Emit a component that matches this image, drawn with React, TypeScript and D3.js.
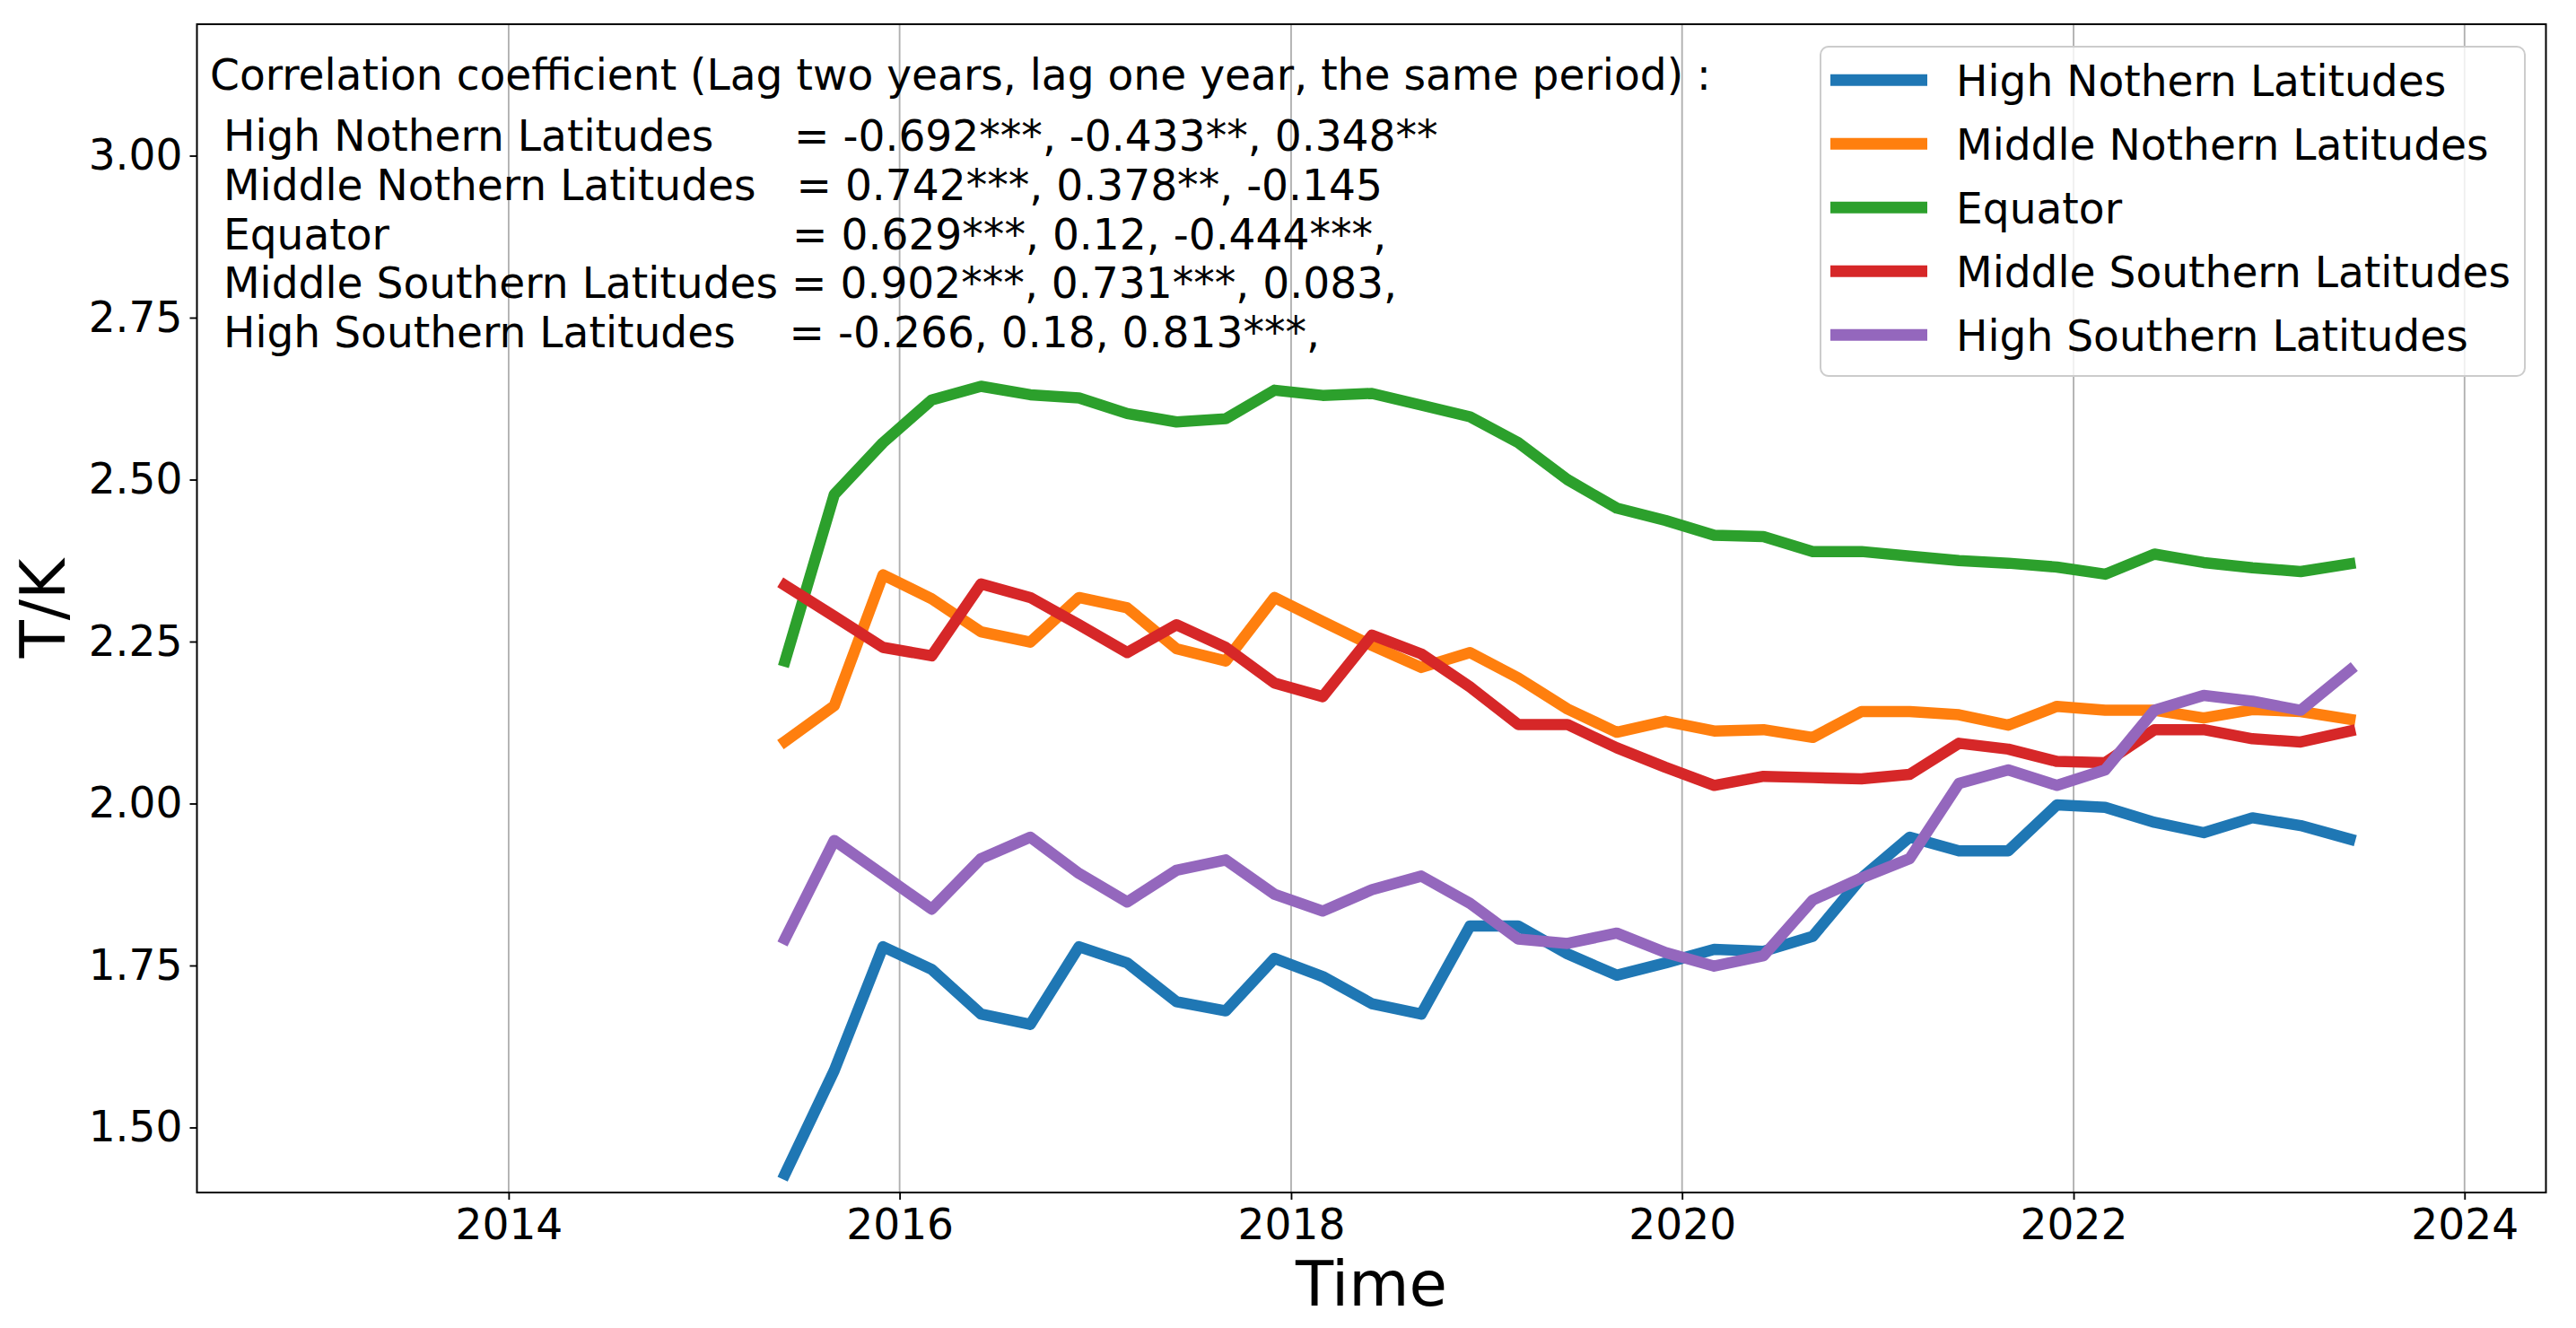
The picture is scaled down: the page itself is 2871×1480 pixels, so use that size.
import * as d3 from 'd3'
import { useEffect, useRef } from 'react'

const W = 2871
const H = 1480

const seriesNames = [
  'High Nothern Latitudes',
  'Middle Nothern Latitudes',
  'Equator',
  'Middle Southern Latitudes',
  'High Southern Latitudes',
]
const colors = ['#1f77b4', '#ff7f0e', '#2ca02c', '#d62728', '#9467bd']

// quarterly values, Jun 2015 .. Jun 2023
const highNorth = [1.428, 1.588, 1.779, 1.744, 1.675, 1.659, 1.779, 1.754, 1.694, 1.680, 1.761, 1.733, 1.691, 1.675, 1.811, 1.811, 1.768, 1.735, 1.754, 1.775, 1.772, 1.795, 1.885, 1.948, 1.927, 1.927, 1.998, 1.994, 1.971, 1.955, 1.978, 1.966, 1.945]
const midNorth = [2.096, 2.151, 2.353, 2.316, 2.265, 2.249, 2.318, 2.302, 2.239, 2.220, 2.318, 2.281, 2.244, 2.210, 2.233, 2.194, 2.146, 2.110, 2.127, 2.112, 2.114, 2.102, 2.142, 2.142, 2.137, 2.121, 2.150, 2.144, 2.144, 2.132, 2.145, 2.142, 2.130]
const equator = [2.220, 2.477, 2.557, 2.623, 2.644, 2.631, 2.626, 2.602, 2.589, 2.594, 2.638, 2.630, 2.633, 2.615, 2.597, 2.557, 2.500, 2.456, 2.437, 2.414, 2.412, 2.389, 2.389, 2.382, 2.375, 2.371, 2.365, 2.354, 2.385, 2.372, 2.364, 2.358, 2.370]
const midSouth = [2.337, 2.289, 2.241, 2.228, 2.339, 2.318, 2.276, 2.233, 2.276, 2.241, 2.186, 2.165, 2.260, 2.231, 2.180, 2.122, 2.122, 2.086, 2.056, 2.028, 2.042, 2.040, 2.038, 2.045, 2.093, 2.084, 2.065, 2.063, 2.114, 2.114, 2.100, 2.095, 2.112]
const highSouth = [1.791, 1.943, 1.890, 1.837, 1.915, 1.948, 1.892, 1.848, 1.897, 1.913, 1.860, 1.834, 1.867, 1.888, 1.846, 1.791, 1.784, 1.800, 1.770, 1.749, 1.765, 1.851, 1.885, 1.915, 2.031, 2.052, 2.028, 2.052, 2.144, 2.167, 2.158, 2.144, 2.206]

const yTicks = [1.5, 1.75, 2.0, 2.25, 2.5, 2.75, 3.0]

const corrTitle = 'Correlation coefficient (Lag two years, lag one year, the same period) :'
const corrLines = [
  ' High Nothern Latitudes      = -0.692***, -0.433**, 0.348**',
  ' Middle Nothern Latitudes   = 0.742***, 0.378**, -0.145',
  ' Equator                              = 0.629***, 0.12, -0.444***,',
  ' Middle Southern Latitudes = 0.902***, 0.731***, 0.083,',
  ' High Southern Latitudes    = -0.266, 0.18, 0.813***,',
]

export default function App() {
  const svgRef = useRef<SVGSVGElement | null>(null)

  useEffect(() => {
    if (!svgRef.current)
      return
    const svg = d3.select(svgRef.current)
    svg.selectAll('*').remove()

    const left = 219.5, right = 2837.5, top = 27, bottom = 1329
    const fs = 47.1

    const dates = d3.timeMonth.range(new Date(2015, 5, 1), new Date(2023, 6, 1), 3)
    const allSeries = [highNorth, midNorth, equator, midSouth, highSouth]

    const x = d3.scaleTime()
      .domain([new Date(2012, 4, 29), new Date(2024, 5, 1)])
      .range([left, right])
    const y = d3.scaleLinear()
      .domain([1.3996, 3.2029])
      .range([bottom, top])

    svg.append('rect').attr('width', W).attr('height', H).attr('fill', '#fff')

    const xTicks = x.ticks(d3.timeYear.every(2)!)

    // vertical grid
    svg.append('g')
      .selectAll('line')
      .data(xTicks)
      .enter()
      .append('line')
      .attr('x1', d => x(d)).attr('x2', d => x(d))
      .attr('y1', top).attr('y2', bottom)
      .attr('stroke', '#b0b0b0')
      .attr('stroke-width', 1.85)

    // series
    const line = d3.line<number>()
      .x((_, i) => x(dates[i]))
      .y(d => y(d))
    svg.append('g')
      .selectAll('path')
      .data(allSeries)
      .enter()
      .append('path')
      .attr('d', d => line(d))
      .attr('fill', 'none')
      .attr('stroke', (_, i) => colors[i])
      .attr('stroke-width', 12.5)
      .attr('stroke-linejoin', 'round')
      .attr('stroke-linecap', 'square')

    // axes
    const xAxis = svg.append('g')
      .attr('transform', `translate(0,${bottom})`)
      .call(d3.axisBottom(x).tickValues(xTicks).tickFormat(d3.timeFormat('%Y') as any).tickSize(8).tickSizeOuter(0).tickPadding(11))
    const yAxis = svg.append('g')
      .attr('transform', `translate(${left},0)`)
      .call(d3.axisLeft(y).tickValues(yTicks).tickFormat(d3.format('.2f')).tickSize(8).tickSizeOuter(0).tickPadding(8))
    ;[xAxis, yAxis].forEach((g) => {
      g.select('.domain').remove()
      g.selectAll('line').attr('stroke', '#000').attr('stroke-width', 1.85)
      g.selectAll('text')
        .attr('fill', '#000')
        .style('font-family', '"DejaVu Sans"')
        .style('font-size', `${fs}px`)
    })

    // frame
    svg.append('rect')
      .attr('x', left).attr('y', top)
      .attr('width', right - left).attr('height', bottom - top)
      .attr('fill', 'none')
      .attr('stroke', '#000')
      .attr('stroke-width', 2)

    // axis labels
    svg.append('text')
      .attr('x', (left + right) / 2).attr('y', 1455)
      .attr('text-anchor', 'middle')
      .style('font-family', '"DejaVu Sans"')
      .style('font-size', '69px')
      .text('Time')
    svg.append('text')
      .attr('transform', `translate(72,${(top + bottom) / 2}) rotate(-90)`)
      .attr('text-anchor', 'middle')
      .style('font-family', '"DejaVu Sans"')
      .style('font-size', '69px')
      .text('T/K')

    // correlation annotation
    const ann = svg.append('g')
      .style('font-family', '"DejaVu Sans"')
      .style('font-size', `${fs}px`)
    ann.append('text')
      .attr('x', 234).attr('y', 100)
      .attr('xml:space', 'preserve')
      .text(corrTitle)
    ann.selectAll('text.corr')
      .data(corrLines)
      .enter()
      .append('text')
      .attr('class', 'corr')
      .attr('x', 234)
      .attr('y', (_, i) => 168 + i * 54.8)
      .attr('xml:space', 'preserve')
      .style('white-space', 'pre')
      .text(d => d)

    // legend
    const lg = svg.append('g')
    lg.append('rect')
      .attr('x', 2029).attr('y', 52)
      .attr('width', 785).attr('height', 367)
      .attr('rx', 9)
      .attr('fill', '#fff').attr('fill-opacity', 0.8)
      .attr('stroke', '#cccccc').attr('stroke-width', 2)
    const items = lg.selectAll('g.item')
      .data(seriesNames)
      .enter()
      .append('g')
      .attr('class', 'item')
      .attr('transform', (_, i) => `translate(0,${89.3 + i * 71})`)
    items.append('line')
      .attr('x1', 2040).attr('x2', 2148)
      .attr('stroke', (_, i) => colors[i])
      .attr('stroke-width', 13)
    items.append('text')
      .attr('x', 2180).attr('y', 17.4)
      .style('font-family', '"DejaVu Sans"')
      .style('font-size', `${fs}px`)
      .text(d => d)
  }, [])

  return (
    <svg
      ref={svgRef}
      width={W}
      height={H}
      style={{ position: 'absolute', left: 0, top: 0, display: 'block' }}
    />
  )
}
